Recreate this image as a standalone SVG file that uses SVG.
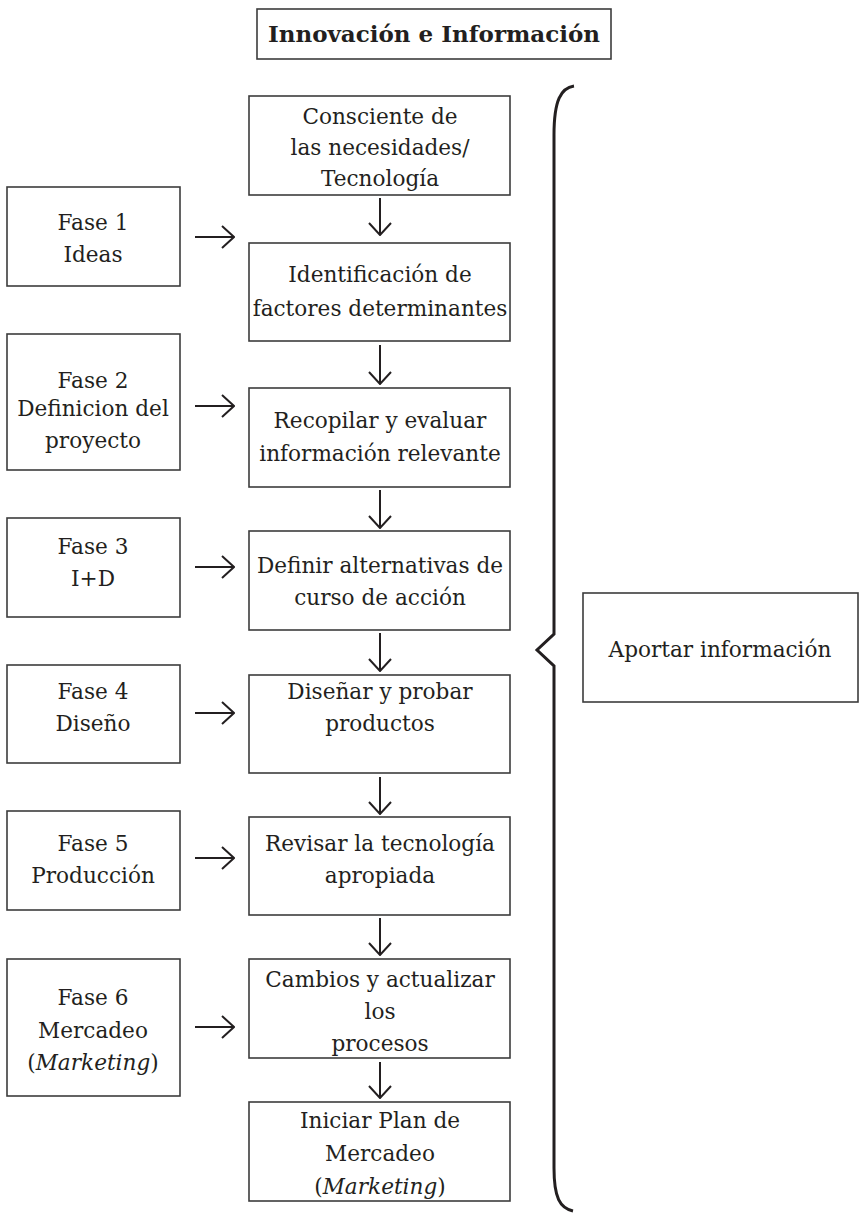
<svg xmlns="http://www.w3.org/2000/svg" width="862" height="1213" viewBox="0 0 862 1213">
<style>
.box{fill:#fff;stroke:#3c3c3c;stroke-width:1.6}
.t{font-family:"DejaVu Serif","Liberation Serif",serif;font-size:21.6px;fill:#231f20;text-anchor:middle}
.title{font-family:"DejaVu Serif","Liberation Serif",serif;font-size:23px;font-weight:bold;fill:#231f20;text-anchor:middle}
.c{fill:none;stroke:#231f20;stroke-width:2}
.ah{fill:none;stroke:#231f20;stroke-width:2}
.brace{fill:none;stroke:#231f20;stroke-width:3}
</style>
<defs>
<marker id="arr" viewBox="0 0 14 24" refX="13" refY="12" markerWidth="14" markerHeight="24" markerUnits="userSpaceOnUse" orient="auto">
<path d="M1,1 L13,12 L1,23" class="ah"/>
</marker>
</defs>
<rect width="862" height="1213" fill="#fff"/>

<g id="title"><rect class="box" x="257" y="9" width="354" height="50"/><text class="title" x="434" y="42">Innovación e Información</text></g>

<g id="n1"><rect class="box" x="249" y="96" width="261" height="99"/>
<text class="t" x="380" y="124">Consciente de</text><text class="t" x="380" y="155">las necesidades/</text><text class="t" x="380" y="186">Tecnología</text></g>
<g id="n2"><rect class="box" x="249" y="243" width="261" height="98"/>
<text class="t" x="380" y="282">Identificación de</text><text class="t" x="380" y="316">factores determinantes</text></g>
<g id="n3"><rect class="box" x="249" y="388" width="261" height="99"/>
<text class="t" x="380" y="428">Recopilar y evaluar</text><text class="t" x="380" y="461">información relevante</text></g>
<g id="n4"><rect class="box" x="249" y="531" width="261" height="99"/>
<text class="t" x="380" y="573">Definir alternativas de</text><text class="t" x="380" y="605">curso de acción</text></g>
<g id="n5"><rect class="box" x="249" y="675" width="261" height="98"/>
<text class="t" x="380" y="699">Diseñar y probar</text><text class="t" x="380" y="731">productos</text></g>
<g id="n6"><rect class="box" x="249" y="817" width="261" height="98"/>
<text class="t" x="380" y="851">Revisar la tecnología</text><text class="t" x="380" y="883">apropiada</text></g>
<g id="n7"><rect class="box" x="249" y="959" width="261" height="99"/>
<text class="t" x="380" y="987">Cambios y actualizar</text><text class="t" x="380" y="1019">los</text><text class="t" x="380" y="1051">procesos</text></g>
<g id="n8"><rect class="box" x="249" y="1102" width="261" height="99"/>
<text class="t" x="380" y="1128">Iniciar Plan de</text><text class="t" x="380" y="1161">Mercadeo</text><text class="t" x="380" y="1194">(<tspan font-style="italic">Marketing</tspan>)</text></g>

<g id="f1"><rect class="box" x="7" y="187" width="173" height="99"/>
<text class="t" x="93" y="230">Fase 1</text><text class="t" x="93" y="262">Ideas</text></g>
<g id="f2"><rect class="box" x="7" y="334" width="173" height="136"/>
<text class="t" x="93" y="388">Fase 2</text><text class="t" x="93" y="416">Definicion del</text><text class="t" x="93" y="448">proyecto</text></g>
<g id="f3"><rect class="box" x="7" y="518" width="173" height="99"/>
<text class="t" x="93" y="554">Fase 3</text><text class="t" x="93" y="586">I+D</text></g>
<g id="f4"><rect class="box" x="7" y="665" width="173" height="98"/>
<text class="t" x="93" y="699">Fase 4</text><text class="t" x="93" y="731">Diseño</text></g>
<g id="f5"><rect class="box" x="7" y="811" width="173" height="99"/>
<text class="t" x="93" y="851">Fase 5</text><text class="t" x="93" y="883">Producción</text></g>
<g id="f6"><rect class="box" x="7" y="959" width="173" height="137"/>
<text class="t" x="93" y="1005">Fase 6</text><text class="t" x="93" y="1038">Mercadeo</text><text class="t" x="93" y="1070">(<tspan font-style="italic">Marketing</tspan>)</text></g>

<g id="aportar"><rect class="box" x="583" y="593" width="275" height="109"/>
<text class="t" x="720" y="657">Aportar información</text></g>

<g id="connectors">
<line class="c" x1="195" y1="237" x2="234" y2="237" marker-end="url(#arr)"/>
<line class="c" x1="195" y1="406" x2="234" y2="406" marker-end="url(#arr)"/>
<line class="c" x1="195" y1="567" x2="234" y2="567" marker-end="url(#arr)"/>
<line class="c" x1="195" y1="713" x2="234" y2="713" marker-end="url(#arr)"/>
<line class="c" x1="195" y1="858" x2="234" y2="858" marker-end="url(#arr)"/>
<line class="c" x1="195" y1="1027" x2="234" y2="1027" marker-end="url(#arr)"/>
<line class="c" x1="380" y1="198" x2="380" y2="235" marker-end="url(#arr)"/>
<line class="c" x1="380" y1="345" x2="380" y2="384" marker-end="url(#arr)"/>
<line class="c" x1="380" y1="490" x2="380" y2="528" marker-end="url(#arr)"/>
<line class="c" x1="380" y1="633" x2="380" y2="671" marker-end="url(#arr)"/>
<line class="c" x1="380" y1="777" x2="380" y2="814" marker-end="url(#arr)"/>
<line class="c" x1="380" y1="918" x2="380" y2="955" marker-end="url(#arr)"/>
<line class="c" x1="380" y1="1062" x2="380" y2="1098" marker-end="url(#arr)"/>
<path class="brace" d="M574,86 C561,88 554,100 554,135 L554,634 L537,650 L554,666 L554,1168 C554,1198 560,1208 573,1211"/>
</g>
</svg>
